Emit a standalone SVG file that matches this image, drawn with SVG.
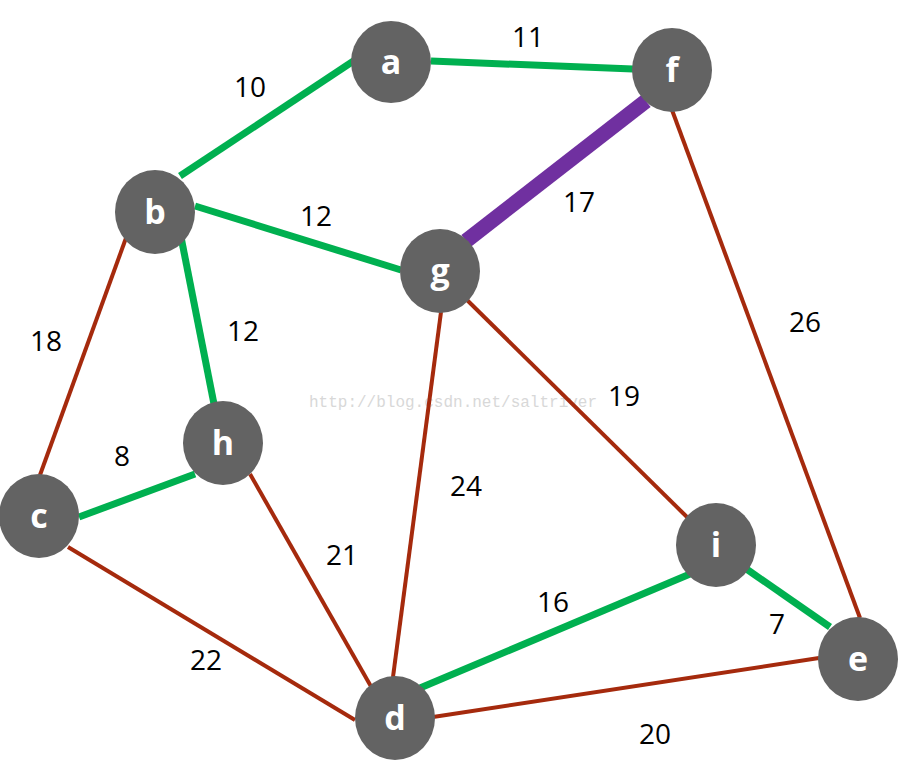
<svg xmlns="http://www.w3.org/2000/svg" width="898" height="778" viewBox="0 0 898 778">
<style>
.g{stroke:#00b050;stroke-width:7;fill:none}
.r{stroke:#a52a0d;stroke-width:4;fill:none}
.p{stroke:#7030a0;stroke-width:15;fill:none}
.n ellipse{fill:#636363}
.n text{fill:#fff;font-family:"Open Sans","Liberation Sans",sans-serif;font-weight:bold;font-size:34px;text-anchor:middle}
.w{fill:#000;font-family:"Open Sans","Liberation Sans",sans-serif;font-size:28px;text-anchor:middle}
.wm{fill:#d8d8d8;font-family:"Liberation Mono",monospace;font-size:16px}
</style>
<rect width="898" height="778" fill="#fff"/>
<text class="wm" x="309" y="407">http://blog.csdn.net/saltriver</text>
<g id="edges">
<line class="g" x1="180" y1="176" x2="355" y2="60"/>
<line class="g" x1="431" y1="61" x2="633" y2="69"/>
<line class="p" x1="646" y1="101" x2="466" y2="241"/>
<line class="g" x1="195" y1="206" x2="401" y2="270"/>
<line class="g" x1="181" y1="237" x2="214" y2="404"/>
<line class="r" x1="126" y1="238" x2="40" y2="475"/>
<line class="g" x1="79" y1="517" x2="195" y2="474"/>
<line class="r" x1="672" y1="110" x2="860" y2="618"/>
<line class="r" x1="467" y1="300" x2="690" y2="520"/>
<line class="r" x1="441" y1="312" x2="393" y2="677"/>
<line class="r" x1="250" y1="474" x2="373" y2="690"/>
<line class="r" x1="68" y1="547" x2="355" y2="720"/>
<line class="g" x1="420" y1="688" x2="690" y2="574"/>
<line class="g" x1="745" y1="568" x2="830" y2="627"/>
<line class="r" x1="433" y1="717" x2="819" y2="658"/>
</g>
<g id="weights">
<text class="w" x="250" y="97">10</text>
<text class="w" x="528" y="47">11</text>
<text class="w" x="579" y="212">17</text>
<text class="w" x="316" y="226">12</text>
<text class="w" x="243" y="341">12</text>
<text class="w" x="46" y="351">18</text>
<text class="w" x="122" y="466">8</text>
<text class="w" x="805" y="332">26</text>
<text class="w" x="624" y="406">19</text>
<text class="w" x="466" y="496">24</text>
<text class="w" x="342" y="565">21</text>
<text class="w" x="553" y="612">16</text>
<text class="w" x="777" y="634">7</text>
<text class="w" x="206" y="670">22</text>
<text class="w" x="655" y="744">20</text>
</g>
<g id="a" class="n"><ellipse cx="391" cy="62" rx="40" ry="41"/><text x="391" y="74">a</text></g>
<g id="f" class="n"><ellipse cx="672" cy="70" rx="40" ry="42"/><text x="672" y="82">f</text></g>
<g id="b" class="n"><ellipse cx="155" cy="212" rx="40" ry="42"/><text x="155" y="224">b</text></g>
<g id="g" class="n"><ellipse cx="440" cy="271" rx="40" ry="42"/><text x="440" y="283">g</text></g>
<g id="h" class="n"><ellipse cx="223" cy="443" rx="40" ry="42"/><text x="223" y="455">h</text></g>
<g id="c" class="n"><ellipse cx="39" cy="516" rx="40" ry="42"/><text x="39" y="528">c</text></g>
<g id="i" class="n"><ellipse cx="716" cy="545" rx="40" ry="42"/><text x="716" y="557">i</text></g>
<g id="e" class="n"><ellipse cx="858" cy="659" rx="40" ry="42"/><text x="858" y="671">e</text></g>
<g id="d" class="n"><ellipse cx="395" cy="718" rx="40" ry="42"/><text x="395" y="730">d</text></g>
</svg>
